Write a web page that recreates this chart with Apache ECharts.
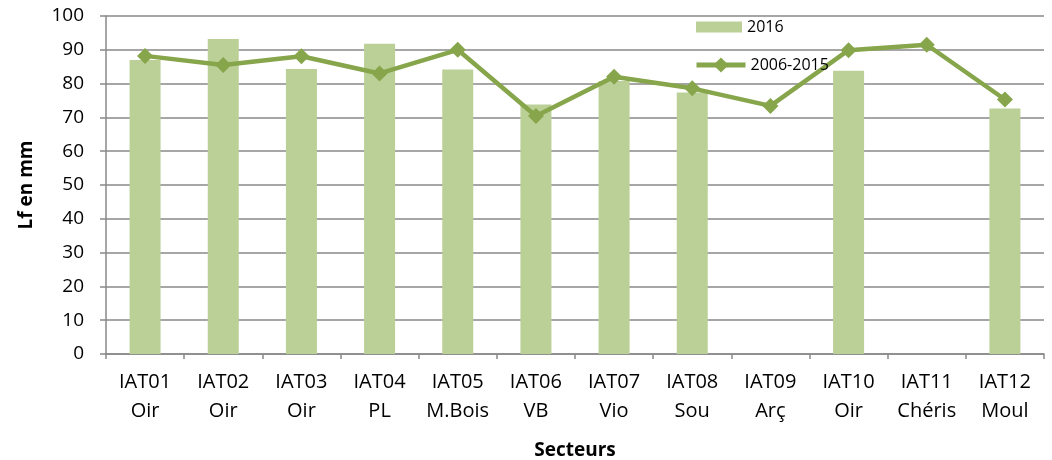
<!DOCTYPE html>
<html>
<head>
<meta charset="utf-8">
<script src="https://cdn.jsdelivr.net/npm/echarts@6/dist/echarts.min.js"></script>
<style>
  html, body { margin: 0; padding: 0; background: #fff; }
  #chart { width: 1052px; height: 460px; }
</style>
</head>
<body>
<div id="chart"></div>
<script>
// secteurs (2 lignes par libellé)
var secteurs = ['IAT01\nOir', 'IAT02\nOir', 'IAT03\nOir', 'IAT04\nPL', 'IAT05\nM.Bois', 'IAT06\nVB',
	'IAT07\nVio', 'IAT08\nSou', 'IAT09\nArç', 'IAT10\nOir', 'IAT11\nChéris', 'IAT12\nMoul']
// valeurs 2016 (pas de mesure pour IAT09 et IAT11)
var val2016 = [87, 93.2, 84.3, 91.8, 84.2, 73.8, 80.8, 77.4, null, 83.8, null, 72.6]
// moyenne 2006-2015
var moy0615 = [88.2, 85.5, 88.1, 83, 90, 70.4, 82, 78.6, 73.4, 89.9, 91.5, 75.3]
var yTicks = [0, 100, 10] // min, max, pas

var police = 'Open Sans'
var gris = '#898989'
var vert = '#87a54b'

var myChart = echarts.init(document.getElementById('chart'))
var legendText = { fontFamily: police, fontSize: 16, color: '#000' }
var option = {
	animation: false,
	textStyle: { fontFamily: police, color: '#000' },
	grid: { left: 106, right: 8, top: 16, bottom: 106, outerBoundsMode: 'none' },
	// deux légendes pour avoir deux hauteurs d'icône
	legend: [{
		left: 691,
		top: 14,
		itemGap: 5,
		itemWidth: 46,
		itemHeight: 11,
		textStyle: legendText,
		data: [{ name: '2016', icon: 'rect' }]
	}, {
		left: 689,
		top: 52,
		itemGap: 5,
		itemWidth: 49,
		itemHeight: 19,
		lineStyle: { width: 5 },
		textStyle: legendText,
		data: ['2006-2015']
	}],
	xAxis: {
		type: 'category',
		data: secteurs,
		name: 'Secteurs',
		nameLocation: 'middle',
		nameGap: 87,
		nameTextStyle: { fontFamily: police, fontSize: 19, fontWeight: 'bold', color: '#000' },
		axisLine: { lineStyle: { color: gris, width: 1.5 } },
		axisTick: { show: true, length: 5, lineStyle: { color: gris, width: 1.5 } },
		axisLabel: { interval: 0, margin: 14, lineHeight: 29, fontSize: 20, color: '#000', fontFamily: police }
	},
	yAxis: {
		type: 'value',
		min: yTicks[0],
		max: yTicks[1],
		interval: yTicks[2],
		name: 'Lf en mm',
		nameLocation: 'middle',
		nameGap: 70,
		nameTextStyle: { fontFamily: police, fontSize: 19, fontWeight: 'bold', color: '#000' },
		axisLine: { show: true, lineStyle: { color: gris, width: 1.5 } },
		axisTick: { show: true, length: 6, lineStyle: { color: gris, width: 1.5 } },
		axisLabel: { margin: 22, fontSize: 19, color: '#000', fontFamily: police },
		splitLine: { lineStyle: { color: gris, width: 1.5 } }
	},
	series: [{
		name: '2016',
		type: 'bar',
		data: val2016,
		barWidth: 31,
		itemStyle: { color: '#bbd097' }
	}, {
		name: '2006-2015',
		type: 'line',
		data: moy0615,
		symbol: 'diamond',
		symbolSize: 16,
		lineStyle: { color: vert, width: 4.5 },
		itemStyle: { color: vert }
	}]
}
myChart.setOption(option)
</script>
</body>
</html>
